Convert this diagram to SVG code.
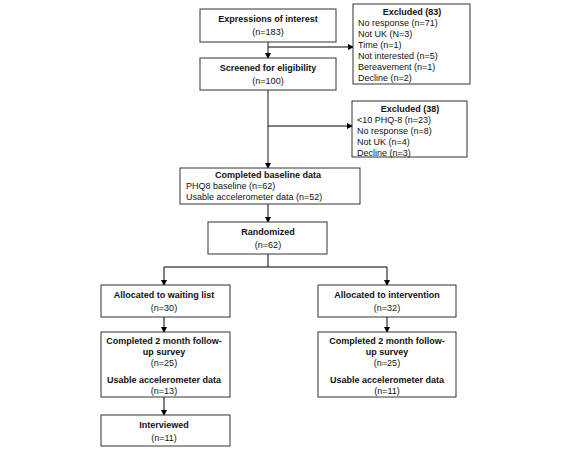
<svg xmlns="http://www.w3.org/2000/svg" width="566" height="451" viewBox="0 0 566 451">
<defs>
<marker id="ah" markerWidth="6" markerHeight="6" refX="5" refY="3" orient="auto" markerUnits="userSpaceOnUse">
<path d="M0,0 L6,3 L0,6 z" fill="#000"/>
</marker>
<style>
.box{fill:#fff;stroke:#333;stroke-width:1}
.t{font-family:"Liberation Sans",Arial,sans-serif;font-size:9px;fill:#111}
.b{font-weight:bold}
.c{text-anchor:middle}
.ln{stroke:#000;stroke-width:1;fill:none}
.gl{stroke:#666;stroke-width:1.5;fill:none}
</style>
</defs>
<rect width="566" height="451" fill="#fff"/>
<g id="connectors">
<line class="gl" x1="268" y1="42" x2="268" y2="53"/>
<line class="ln" x1="268" y1="53" x2="268" y2="58" marker-end="url(#ah)"/>
<line class="ln" x1="268" y1="47" x2="353" y2="47" marker-end="url(#ah)"/>
<line class="gl" x1="268" y1="90" x2="268" y2="163"/>
<line class="ln" x1="268" y1="163" x2="268" y2="168" marker-end="url(#ah)"/>
<line class="ln" x1="268" y1="126" x2="352" y2="126" marker-end="url(#ah)"/>
<line class="ln" x1="268" y1="204" x2="268" y2="222" marker-end="url(#ah)"/>
<polyline class="ln" points="268,254 268,267 164,267 164,285" marker-end="url(#ah)"/>
<polyline class="ln" points="268,267 387,267 387,285" marker-end="url(#ah)"/>
<line class="ln" x1="164" y1="317" x2="164" y2="332" marker-end="url(#ah)"/>
<line class="ln" x1="387" y1="317" x2="387" y2="332" marker-end="url(#ah)"/>
<line class="ln" x1="164" y1="397" x2="164" y2="415" marker-end="url(#ah)"/>
</g>
<g id="n1">
<rect class="box" x="200" y="9" width="136" height="33"/>
<text class="t b c" x="268" y="22">Expressions of interest</text>
<text class="t c" x="268" y="35">(n=183)</text>
</g>
<g id="ex83">
<rect class="box" x="353" y="4" width="117" height="80"/>
<text class="t b c" x="412" y="15">Excluded (83)</text>
<text class="t" x="358" y="26">No response (n=71)</text>
<text class="t" x="358" y="37">Not UK (N=3)</text>
<text class="t" x="358" y="48">Time (n=1)</text>
<text class="t" x="358" y="59">Not interested (n=5)</text>
<text class="t" x="358" y="70">Bereavement (n=1)</text>
<text class="t" x="358" y="81">Decline (n=2)</text>
</g>
<g id="n2">
<rect class="box" x="200" y="58" width="136" height="32"/>
<text class="t b c" x="268" y="71">Screened for eligibility</text>
<text class="t c" x="268" y="84">(n=100)</text>
</g>
<g id="ex38">
<rect class="box" x="352" y="101" width="115" height="56"/>
<text class="t b c" x="410" y="112">Excluded (38)</text>
<text class="t" x="357" y="123">&lt;10 PHQ-8 (n=23)</text>
<text class="t" x="357" y="134">No response (n=8)</text>
<text class="t" x="357" y="145">Not UK (n=4)</text>
<text class="t" x="357" y="156">Decline (n=3)</text>
</g>
<g id="n3">
<rect class="box" x="180" y="168" width="180" height="36"/>
<text class="t b c" x="268" y="178">Completed baseline data</text>
<text class="t" x="186" y="189">PHQ8 baseline (n=62)</text>
<text class="t" x="186" y="200">Usable accelerometer data (n=52)</text>
</g>
<g id="n4">
<rect class="box" x="208" y="222" width="119" height="32"/>
<text class="t b c" x="268" y="235">Randomized</text>
<text class="t c" x="268" y="248">(n=62)</text>
</g>
<g id="n5">
<rect class="box" x="101" y="285" width="129" height="32"/>
<text class="t b c" x="164" y="298">Allocated to waiting list</text>
<text class="t c" x="164" y="311">(n=30)</text>
</g>
<g id="n6">
<rect class="box" x="318" y="285" width="138" height="32"/>
<text class="t b c" x="387" y="298">Allocated to intervention</text>
<text class="t c" x="387" y="311">(n=32)</text>
</g>
<g id="n7">
<rect class="box" x="101" y="332" width="129" height="65"/>
<text class="t b c" x="164" y="344">Completed 2 month follow-</text>
<text class="t b c" x="164" y="355">up survey</text>
<text class="t c" x="164" y="366">(n=25)</text>
<text class="t b c" x="164" y="383">Usable accelerometer data</text>
<text class="t c" x="164" y="394">(n=13)</text>
</g>
<g id="n8">
<rect class="box" x="318" y="332" width="138" height="65"/>
<text class="t b c" x="387" y="344">Completed 2 month follow-</text>
<text class="t b c" x="387" y="355">up survey</text>
<text class="t c" x="387" y="366">(n=25)</text>
<text class="t b c" x="387" y="383">Usable accelerometer data</text>
<text class="t c" x="387" y="394">(n=11)</text>
</g>
<g id="n9">
<rect class="box" x="101" y="415" width="129" height="31"/>
<text class="t b c" x="164" y="428">Interviewed</text>
<text class="t c" x="164" y="441">(n=11)</text>
</g>
</svg>
